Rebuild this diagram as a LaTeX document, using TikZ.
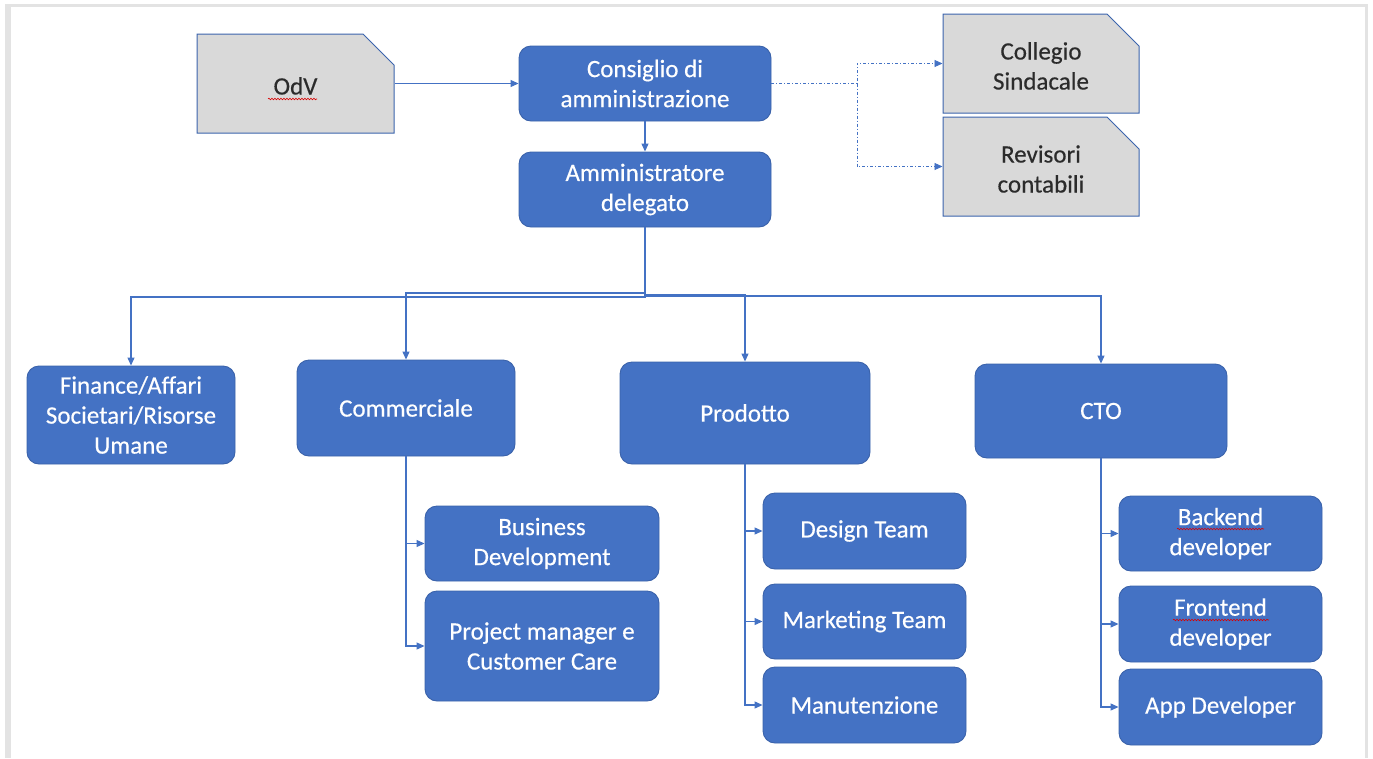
\documentclass[tikz,border=0pt]{standalone}
\usepackage{fontspec}
\setmainfont[FakeBold=0.4]{Carlito}
\usetikzlibrary{arrows.meta,shapes.misc,decorations.pathmorphing}
\definecolor{boxblue}{HTML}{4472C4}
\definecolor{boxedge}{HTML}{3A62AA}
\definecolor{grayfill}{HTML}{D9D9D9}
\definecolor{gedge}{HTML}{3B64AD}
\definecolor{conncol}{HTML}{4472C4}
\definecolor{frame}{HTML}{E3E3E3}
\definecolor{gtext}{HTML}{2B2B2B}
\newcommand{\fsz}{\fontsize{25}{30}\selectfont}
\newcommand{\gtxt}[1]{\raisebox{-5pt}[\height][\depth]{\begin{tabular}{@{}c@{}}#1\end{tabular}}}
\tikzset{
  bluebox/.style={draw=boxedge, fill=boxblue, rounded corners=12pt, text=white, align=center,
    inner sep=0pt, font=\fsz, line width=0.9pt},
  graybox/.style={chamfered rectangle, chamfered rectangle corners=north east,
    chamfered rectangle xsep=16pt, chamfered rectangle ysep=16pt,
    draw=gedge, fill=grayfill, text=gtext, align=center, inner sep=0pt, font=\fsz, line width=1pt},
  conn/.style={draw=conncol, line width=1.1pt, -{Triangle[length=8pt,width=7pt]}},
  dconn/.style={draw=conncol, line width=0.9pt, dash pattern=on 3pt off 2pt on 1pt off 2pt,
    -{Triangle[length=8pt,width=7pt]}},
  spell/.style={draw=red!85!black, line width=0.6pt, decorate,
    decoration={snake, amplitude=0.8pt, segment length=3pt}}
}
\begin{document}
\begin{tikzpicture}[x=1pt,y=-1pt]
\useasboundingbox (0,0) rectangle (1373,758);
% frame
\fill[frame] (5,3.5) rectangle (1368,6.5);
\fill[frame] (5,3.5) rectangle (11,758);
\fill[frame] (1364.5,3.5) rectangle (1367.5,758);

% top row
\node[graybox, minimum width=197pt, minimum height=99pt] (odv) at (295.5,83.5) {\gtxt{OdV}};
\node[bluebox, minimum width=252pt, minimum height=75pt] (cda) at (645,83.5) {Consiglio di\\amministrazione};
\node[bluebox, minimum width=252pt, minimum height=75pt] (amm) at (645,189.5) {Amministratore\\delegato};
\node[graybox, minimum width=196pt, minimum height=99pt] (col) at (1041,63.5) {\gtxt{Collegio\\Sindacale}};
\node[graybox, minimum width=196pt, minimum height=99pt] (rev) at (1041,166.5) {\gtxt{Revisori\\contabili}};

% second row
\node[bluebox, minimum width=208pt, minimum height=98pt] (fin) at (131,415) {Finance/Affari\\Societari/Risorse\\Umane};
\node[bluebox, minimum width=218pt, minimum height=96pt] (com) at (406,408) {Commerciale};
\node[bluebox, minimum width=250pt, minimum height=102pt] (pro) at (745,413) {Prodotto};
\node[bluebox, minimum width=252pt, minimum height=94pt] (cto) at (1101,411) {CTO};

% commerciale children
\node[bluebox, minimum width=234pt, minimum height=75pt] (bd) at (542,543.5) {Business\\Development};
\node[bluebox, minimum width=234pt, minimum height=110pt] (pm) at (542,646) {Project manager e\\Customer Care};

% prodotto children
\node[bluebox, minimum width=203pt, minimum height=76pt] (des) at (864.5,531) {Design Team};
\node[bluebox, minimum width=203pt, minimum height=75pt] (mkt) at (864.5,621.5) {Marketing Team};
\node[bluebox, minimum width=203pt, minimum height=76pt] (man) at (864.5,705) {Manutenzione};

% cto children
\node[bluebox, minimum width=203pt, minimum height=75pt] (be) at (1220.5,533.5) {Backend\\developer};
\node[bluebox, minimum width=203pt, minimum height=76pt] (fe) at (1220.5,624) {Frontend\\developer};
\node[bluebox, minimum width=203pt, minimum height=76pt] (app) at (1220.5,707) {App Developer};

% spell-check underlines
\draw[spell] (268,99) -- (317,99);
\draw[spell] (1177,529) -- (1264,529);
\draw[spell] (1173,620) -- (1269,620);

% connectors top
\draw[conn] (odv.east) -- (cda.west);
\draw[conn] (cda.south) -- (amm.north);
\coordinate (dj) at (857,83.5);
\draw[dconn] (cda.east) -- (dj) |- (col.west);
\draw[dconn] (dj) |- (rev.west);

% hub
\draw[conn] (amm.south) -- (amm.south |- 0,297) -| (fin.north);
\draw[conn] (amm.south) -- (amm.south |- 0,293) -| (com.north);
\draw[conn] (amm.south) -- (amm.south |- 0,295) -| (pro.north);
\draw[conn] (amm.south) -- (amm.south |- 0,296) -| (cto.north);

% sub branches
\draw[conn] (com.south) |- (bd.west);
\draw[conn] (com.south) |- (pm.west);
\draw[conn] (pro.south) |- (des.west);
\draw[conn] (pro.south) |- (mkt.west);
\draw[conn] (pro.south) |- (man.west);
\draw[conn] (cto.south) |- (be.west);
\draw[conn] (cto.south) |- (fe.west);
\draw[conn] (cto.south) |- (app.west);
\end{tikzpicture}
\end{document}
